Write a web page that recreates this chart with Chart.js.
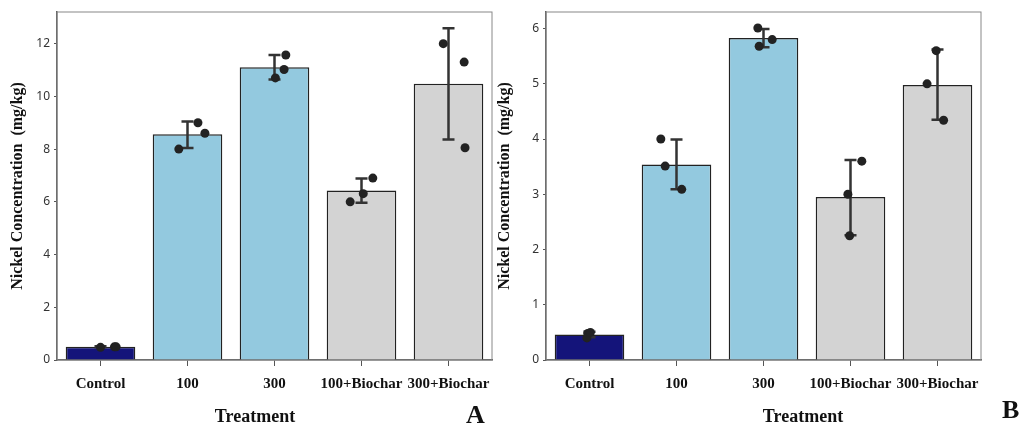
<!DOCTYPE html>
<html>
<head>
<meta charset="utf-8">
<title>Nickel Concentration</title>
<script src="https://cdn.jsdelivr.net/npm/chart.js@4.4.1/dist/chart.umd.min.js"></script>
<style>
    html, body { margin: 0; padding: 0; background: #fff; width: 1021px; height: 433px; overflow: hidden; }
    canvas { position: absolute; top: 0; }
    #chart-a { left: 0; }
    #chart-b { left: 490px; }
    .x-title { position: absolute; top: 406px; line-height: 22px; font: bold 18px 'Liberation Serif', serif; color: #111; transform: translateX(-50%); white-space: nowrap; }
    .letter { position: absolute; line-height: 26px; font: bold 26px 'Liberation Serif', serif; color: #111; }
</style>
</head>
<body>
<canvas id="chart-a" width="500" height="433"></canvas>
<canvas id="chart-b" width="531" height="433"></canvas>
<div class="x-title" style="left:255px">Treatment</div>
<div class="x-title" style="left:803px">Treatment</div>
<div class="letter" style="left:466px; top:400px">A</div>
<div class="letter" style="left:1002px; top:395px">B</div>

<script>
// Kategorie
const treatments = ['Control', '100', '300', '100+Biochar', '300+Biochar'];
const barColors = ['#14147a', '#93c9df', '#93c9df', '#d3d3d3', '#d3d3d3'];

// Panel A - średnie i słupki błędów
const meanA = [0.5, 8.56, 11.1, 6.43, 10.48];
const lowA  = [0.48, 8.04, 10.64, 5.96, 8.36];
const highA = [0.52, 9.05, 11.57, 6.88, 12.58];

// Panel B - średnie i słupki błędów
const meanB = [0.46, 3.54, 5.83, 2.95, 4.98];
const lowB  = [0.41, 3.09, 5.66, 2.26, 4.35];
const highB = [0.51, 3.99, 5.99, 3.62, 5.62];

// Pojedyncze pomiary (kategoria, przesunięcie w poziomie, wartość)
const ptCat  = [0, 0, 0, 1, 1, 1, 2, 2, 2, 3, 3, 3, 4, 4, 4];
const ptJitA = [0.0, 0.16, 0.18, -0.1, 0.12, 0.2, 0.01, 0.11, 0.13, -0.13, 0.02, 0.13, -0.06, 0.18, 0.19];
const ptValA = [0.48, 0.5, 0.5, 8.0, 9.0, 8.6, 10.7, 11.02, 11.57, 6.0, 6.31, 6.9, 12.0, 11.3, 8.05];
const ptJitB = [-0.02, -0.03, 0.01, -0.18, -0.13, 0.06, -0.065, 0.1, -0.05, -0.03, 0.13, -0.01, -0.12, -0.015, 0.07];
const ptValB = [0.48, 0.4, 0.5, 4.0, 3.51, 3.09, 6.01, 5.8, 5.68, 3.0, 3.6, 2.25, 5.0, 5.6, 4.34];

const serif = "'Liberation Serif', 'Times New Roman', serif";

// Ramka wokół obszaru wykresu
const framePlugin = {
    id: 'frame',
    beforeDatasetsDraw(chart) {
        const { ctx, chartArea: a } = chart;
        ctx.save();
        ctx.strokeStyle = '#888';
        ctx.lineWidth = 1;
        ctx.strokeRect(a.left, a.top, a.right - a.left, a.bottom - a.top);
        ctx.restore();
    }
};

// Słupki błędów rysowane po słupkach
const errorBarPlugin = {
    id: 'errorBars',
    afterDatasetDraw(chart, args, opts) {
        if (args.index !== 0) return;
        const { ctx } = chart;
        const xs = chart.scales.x, ys = chart.scales.y;
        ctx.save();
        ctx.strokeStyle = '#333';
        ctx.lineWidth = 2.5;
        opts.low.forEach((lo, i) => {
            const cx = xs.getPixelForValue(i);
            const y1 = ys.getPixelForValue(lo);
            const y2 = ys.getPixelForValue(opts.high[i]);
            const w = 6;
            ctx.beginPath();
            ctx.moveTo(cx, y1); ctx.lineTo(cx, y2);
            ctx.moveTo(cx - w, y1); ctx.lineTo(cx + w, y1);
            ctx.moveTo(cx - w, y2); ctx.lineTo(cx + w, y2);
            ctx.stroke();
        });
        ctx.restore();
    }
};

function makePanel(id, means, low, high, jit, vals, yMax, yWidth, titlePad, padRight) {
    const points = vals.map((v, i) => ({ x: ptCat[i] + jit[i], y: v }));
    return new Chart(document.getElementById(id), {
        type: 'bar',
        data: {
            labels: treatments,
            datasets: [
                {
                    type: 'bar',
                    data: means,
                    backgroundColor: barColors,
                    borderColor: '#222',
                    borderWidth: 1.5,
                    barPercentage: 0.8,
                    categoryPercentage: 1,
                    grouped: false,
                    order: 1
                },
                {
                    type: 'scatter',
                    data: points,
                    xAxisID: 'xj',
                    backgroundColor: '#222',
                    borderWidth: 0,
                    pointRadius: 4.5,
                    order: 0
                }
            ]
        },
        options: {
            responsive: false,
            animation: false,
            layout: { padding: { top: 12, right: padRight, left: 0, bottom: 0 } },
            plugins: {
                legend: { display: false },
                tooltip: { enabled: false },
                errorBars: { low, high }
            },
            scales: {
                x: {
                    type: 'category',
                    offset: true,
                    grid: { display: true, drawOnChartArea: false, offset: false, tickLength: 6, color: '#555' },
                    border: { color: '#555', width: 1.5 },
                    ticks: { color: '#111', font: { family: serif, weight: 'bold', size: 15 }, padding: 9, maxRotation: 0, autoSkip: false },
                    afterFit: s => { s.height = 73; }
                },
                xj: { type: 'linear', min: -0.5, max: 4.5, offset: false, display: false },
                y: {
                    min: 0,
                    max: yMax,
                    ticks: { stepSize: yMax > 10 ? 2 : 1, includeBounds: false, color: '#333', font: { family: "'Noto Sans', sans-serif", size: 12 }, padding: 4 },
                    grid: { display: true, drawOnChartArea: false, tickLength: 3, color: '#555' },
                    border: { color: '#555', width: 1.5 },
                    title: {
                        display: true,
                        text: 'Nickel Concentration  (mg/kg)',
                        color: '#111',
                        font: { family: serif, weight: 'bold', size: 16 },
                        padding: { top: titlePad, bottom: 0 }
                    },
                    afterFit: s => { s.width = yWidth; }
                }
            }
        },
        plugins: [framePlugin, errorBarPlugin]
    });
}

makePanel('chart-a', meanA, lowA, highA, ptJitA, ptValA, 13.2, 57, 8, 8);
makePanel('chart-b', meanB, lowB, highB, ptJitB, ptValB, 6.3, 56, 5, 40);
</script>
</body>
</html>
